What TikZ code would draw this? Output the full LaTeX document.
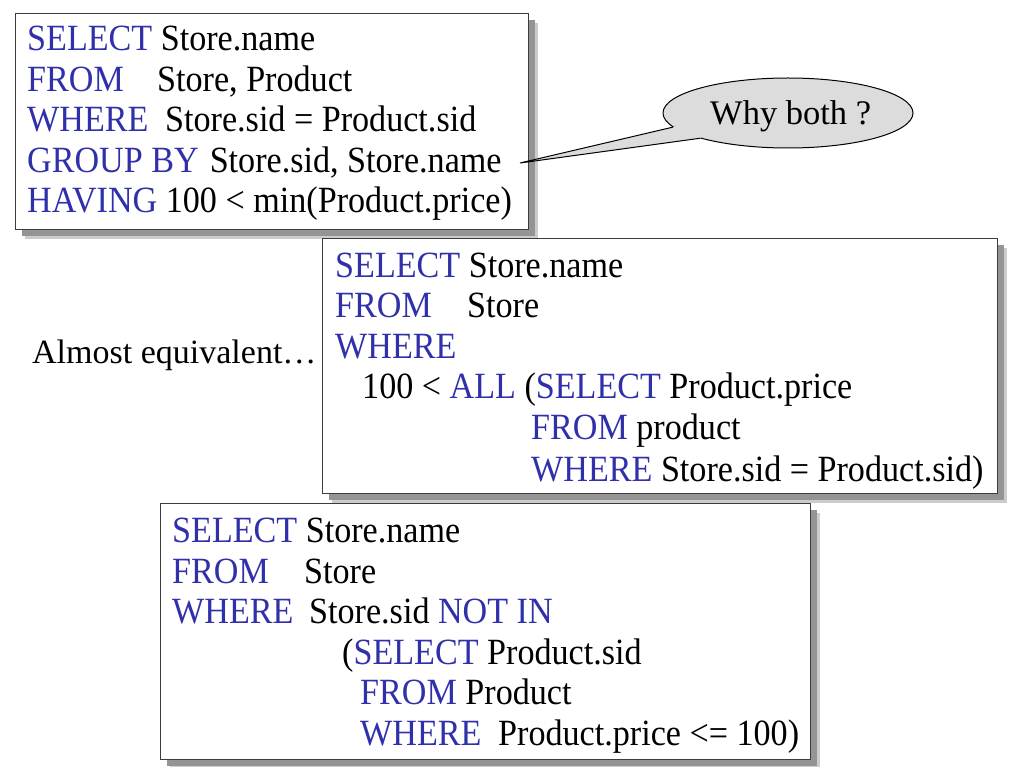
\documentclass[tikz,border=0pt]{standalone}
\usepackage{fontspec}
\setmainfont{Liberation Serif}
\newfontfamily\sqlfont[FakeStretch=0.922]{Liberation Serif}
\usetikzlibrary{shapes.geometric,calc}
\definecolor{kwblue}{RGB}{48,48,170}
\definecolor{boxline}{RGB}{60,60,60}
\definecolor{bubble}{RGB}{220,220,220}
\newcommand\sqlkw[1]{\textcolor{kwblue}{#1}}
\newcommand\padto[2]{\makebox[#1pt][l]{#2}}
\begin{document}
\begin{tikzpicture}[x=1pt,y=-1pt,
  sqlbox/.style={draw=boxline, line width=1.1pt, fill=white, inner sep=0pt, anchor=north west,
    preaction={fill=black!20, transform canvas={shift={(9pt,-9pt)}}},
    preaction={fill=black!42, transform canvas={shift={(6pt,-6pt)}}}},
  sqltxt/.style={anchor=base west, inner sep=0pt, font=\sqlfont\fontsize{37}{40}\selectfont},
  plaintxt/.style={anchor=base west, inner sep=0pt, font=\fontsize{34}{38}\selectfont},
  bubblenode/.style={ellipse, draw=black, line width=1pt, fill=bubble, inner sep=0pt,
    minimum width=250pt, minimum height=70pt}]
\useasboundingbox (0,0) rectangle (1024,767);
\fill[white] (0,0) rectangle (1024,767);

% boxes
\node[sqlbox, minimum width=513pt, minimum height=216pt] (box1) at (15,13) {};
\node[sqlbox, minimum width=675pt, minimum height=255pt] (box2) at (322,238) {};
\node[sqlbox, minimum width=650pt, minimum height=256pt] (box3) at (160,503) {};

% box 1
\node[sqltxt] (a1) at (27,51) {\sqlkw{SELECT} Store.name};
\node[sqltxt] (a2) at (27,92) {\padto{130}{\sqlkw{FROM}}Store, Product};
\node[sqltxt] (a3) at (27,132) {\padto{138}{\sqlkw{WHERE}}Store.sid = Product.sid};
\node[sqltxt] (a4) at (27,173) {\sqlkw{GROUP BY}\hspace{11pt}Store.sid, Store.name};
\node[sqltxt] (a5) at (27,213) {\sqlkw{HAVING} 100 < min(Product.price)};

% box 2
\node[sqltxt] (b1) at (335,277) {\sqlkw{SELECT} Store.name};
\node[sqltxt] (b2) at (335,317) {\padto{132}{\sqlkw{FROM}}Store};
\node[sqltxt] (b3) at (335,358) {\sqlkw{WHERE}};
\node[sqltxt] (b4) at (362,398) {100 < \sqlkw{ALL} (\sqlkw{SELECT} Product.price};
\node[sqltxt] (b5) at (531,439) {\sqlkw{FROM} product};
\node[sqltxt] (b6) at (531,481) {\sqlkw{WHERE} Store.sid = Product.sid)};

% box 3
\node[sqltxt] (c1) at (172,542) {\sqlkw{SELECT} Store.name};
\node[sqltxt] (c2) at (172,583) {\padto{132}{\sqlkw{FROM}}Store};
\node[sqltxt] (c3) at (172,623) {\padto{137}{\sqlkw{WHERE}}Store.sid \sqlkw{NOT IN}};
\node[sqltxt] (c4) at (342,664) {(\sqlkw{SELECT} Product.sid};
\node[sqltxt] (c5) at (360,704) {\sqlkw{FROM} Product};
\node[sqltxt] (c6) at (360,745) {\padto{138}{\sqlkw{WHERE}}Product.price <= 100)};

% side label
\node[plaintxt] (almost) at (32,363) {Almost equivalent…};

% callout
\node[bubblenode] (why) at (788,113) {};
\coordinate (tip) at (520,163);
\coordinate (inner) at ($(why.center)!0.75!(why.191)$);
\fill[bubble] (why.187) -- (tip) -- (why.196) -- (inner) -- cycle;
\draw[line width=1pt, line join=miter] (why.187) -- (tip) -- (why.196);
\node[plaintxt, font=\fontsize{34.5}{38}\selectfont] (whytxt) at (710,125) {Why both ?};
\end{tikzpicture}
\end{document}
